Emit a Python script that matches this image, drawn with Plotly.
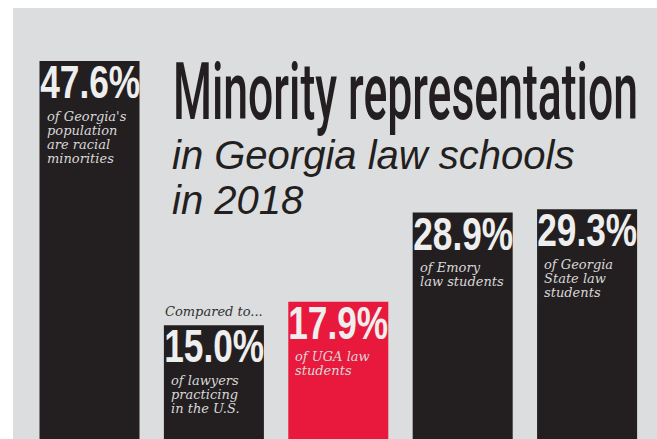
import json
import plotly.graph_objects as go

# ---- data ----
categories = ["Georgia population", "U.S. lawyers", "UGA law", "Emory law", "Georgia State law"]
values = [47.6, 15.0, 17.9, 28.9, 29.3]
value_labels = ["47.6%", "15.0%", "17.9%", "28.9%", "29.3%"]
descriptions = [
    "of Georgia's<br>population<br>are racial<br>minorities",
    "of lawyers<br>practicing<br>in the U.S.",
    "of UGA law<br>students",
    "of Emory<br>law students",
    "of Georgia<br>State law<br>students",
]
compare_note = "Compared to..."
title_main = "Minority representation"
title_sub1 = "in Georgia law schools"
title_sub2 = "in 2018"

# ---- styles ----
bar_colors = ["#231f20", "#231f20", "#e8193c", "#231f20", "#231f20"]
BG = "#dcdddf"
INK = "#231f20"
NUM_COLOR = "#eeeeee"
DESC_COLOR = "#d8d8d8"
BAR_W = 0.804

W, H = 657, 439
ML, MT = 13, 8


def px(x):
    return (x - ML) / (W - ML)


def py(y):
    return (H - y) / (H - MT)


fig = go.Figure(
    go.Bar(
        x=list(range(len(categories))),
        y=values,
        width=BAR_W,
        marker=dict(color=bar_colors, line=dict(width=0)),
        hoverinfo="skip",
        customdata=categories,
    )
)

ann = []
NUM_FONT = "Liberation Sans, Arial, sans-serif"
SERIF = "DejaVu Serif, serif"
SANS = "Liberation Sans, Arial, sans-serif"

# condensing of the display type (SVG textLength, applied after render)
fit = {}

for i, (v, lab, desc) in enumerate(zip(values, value_labels, descriptions)):
    ann.append(dict(
        x=i, y=v, xref="x", yref="y", xanchor="center", yanchor="top",
        yshift=7, showarrow=False, text=lab,
        font=dict(family=NUM_FONT, size=46, color=NUM_COLOR, weight=700),
    ))
    fit[lab] = 100
    for k, line in enumerate(desc.split("<br>")):
        ann.append(dict(
            x=i - BAR_W / 2, y=v, xref="x", yref="y", xanchor="left", yanchor="middle",
            xshift=5, yshift=-(55 + 14 * k), showarrow=False, text=line,
            font=dict(family=SERIF, size=13, color=DESC_COLOR, style="italic"),
        ))

ann.append(dict(
    x=1, y=values[1], xref="x", yref="y", xanchor="center", yanchor="middle",
    yshift=14, showarrow=False, text=compare_note,
    font=dict(family=SERIF, size=13, color="#303030", style="italic"),
))

ann.append(dict(
    x=px(171), y=py(92), xref="paper", yref="paper", xanchor="left", yanchor="middle",
    align="left", showarrow=False, text=title_main,
    font=dict(family="Roboto, Liberation Sans, sans-serif", size=80, color=INK, weight=500),
))
fit[title_main] = 465

ann.append(dict(
    x=px(170), y=py(155), xref="paper", yref="paper", xanchor="left", yanchor="middle",
    align="left", showarrow=False, text=title_sub1,
    font=dict(family=SANS, size=40, color=INK, style="italic"),
))
ann.append(dict(
    x=px(170), y=py(200), xref="paper", yref="paper", xanchor="left", yanchor="middle",
    align="left", showarrow=False, text=title_sub2,
    font=dict(family=SANS, size=40, color=INK, style="italic"),
))

fig.update_layout(
    width=W, height=H,
    margin=dict(l=ML, r=0, t=MT, b=0, pad=0),
    paper_bgcolor="white", plot_bgcolor=BG,
    showlegend=False,
    xaxis=dict(range=[-0.615, 4.562], visible=False, fixedrange=True),
    yaxis=dict(range=[0.96, 54.14], visible=False, fixedrange=True),
    annotations=ann,
)

post_js = """
var gd = document.getElementById('{plot_id}');
var fit = %s;
gd.querySelectorAll('text.annotation-text').forEach(function (t) {
  var s = t.getAttribute('data-unformatted');
  if (s === null || !fit.hasOwnProperty(s)) return;
  var L = fit[s];
  t.setAttribute('textLength', L);
  t.setAttribute('lengthAdjust', 'spacingAndGlyphs');
  var bg = t.parentNode.querySelector('rect.bg');
  if (bg) {
    var x = parseFloat(bg.getAttribute('x')) || 0;
    var w = parseFloat(bg.getAttribute('width')) || 0;
    var nw = L + 4;
    if (t.getAttribute('text-anchor') !== 'start') { x += (w - nw) / 2; }
    bg.setAttribute('x', x);
    bg.setAttribute('width', nw);
  }
});
""" % json.dumps(fit)

fig.write_html("out.html", config={"displayModeBar": False}, post_script=post_js)
